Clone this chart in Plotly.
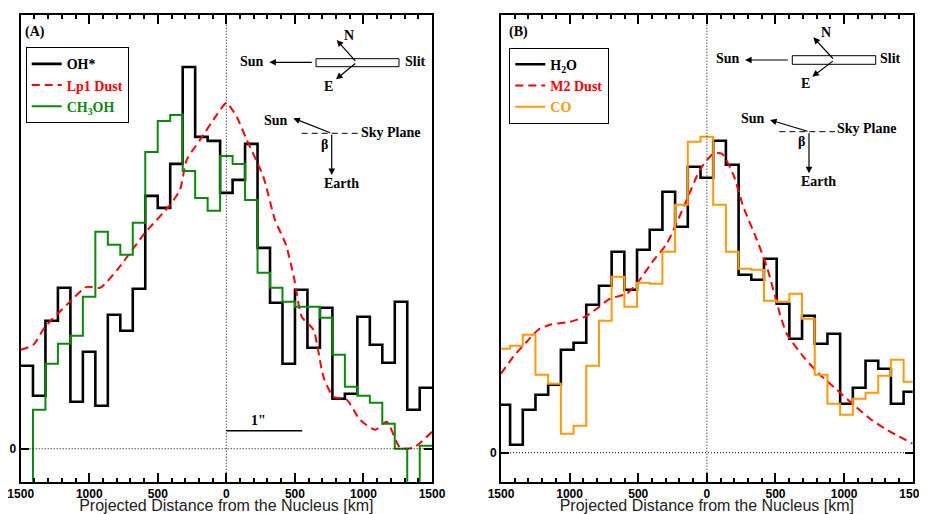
import numpy as np
import plotly.graph_objects as go

# The page body adds an 8 px margin; all positions below are given in window pixels
# and converted to the figure's paper coordinates.
OFF = 8
W, H = 927 - OFF, 514 - OFF

# ---------------- data (relative intensity, arbitrary units) ----------------
bin_index = list(range(-16, 17))          # spatial pixel rows, centred on nucleus
bin_width_A_km = 91.0
bin_width_B_km = 92.5

oh_A = [83, 53, 128, 161, 47, 97, 43, 134, 118, 160, 253, 241, 285, 382, 312, 308,
        256, 269, 305, 201, 146, 85, 159, 101, 141, 50, 55, 132, 104, 86, 147, 39, 61]
ch3oh_A = [-60, 39, 85, 105, 113, 152, 217, 204, 194, 226, 297, 328, 334, 278, 251, 238,
           293, 285, 249, 176, 161, 147, 142, 142, 131, 94, 62, 53, 46, 25, 0, -60, 3]
dust_A_km = [-1500, -1408, -1322, -1164, -1018, -921, -790, -605, -411, -338, -289, -192,
             -70, 0, 76, 149, 270, 355, 435, 495, 550, 635, 708, 780, 878, 975, 1085,
             1170, 1267, 1364, 1500]
dust_A = [99, 104, 122, 144, 162, 161, 180, 214, 244, 259, 289, 309, 334, 346, 332, 309,
          272, 229, 204, 170, 132, 119, 72, 52, 49, 29, 19, 27, 1, 1, 17]

h2o_B = [48, 8, 43, 58, 68, 103, 110, 148, 167, 201, 163, 203, 223, 261, 226, 286,
         275, 312, 288, 178, 173, 194, 149, 114, 137, 109, 119, 49, 65, 92, 84, 49, 61]
co_B = [104, 107, 118, 78, 69, 19, 27, 87, 132, 176, 146, 170, 169, 201, 248, 311,
        316, 248, 201, 184, 183, 152, 151, 159, 134, 78, 49, 38, 54, 60, 77, 93, 71]
dust_B_km = [-1500, -1410, -1312, -1228, -1143, -997, -888, -802, -705, -584, -511, -385,
             -292, -146, -50, 47, 109, 193, 266, 364, 437, 534, 582, 703, 825, 947, 1068,
             1189, 1311, 1500]
dust_B = [79, 96, 111, 123, 128, 131, 136, 144, 154, 159, 169, 193, 209, 253, 283, 299,
          299, 278, 246, 213, 186, 138, 119, 96, 78, 63, 48, 34, 23, 9]

tick_vals = [-1500, -1000, -500, 0, 500, 1000, 1500]
tick_text = [str(abs(v)) for v in tick_vals]
one_arcsec_km = 553

# ---------------- helpers ----------------
def steps(values, width):
    c = np.array(bin_index, dtype=float) * width
    x = list(c - width / 2) + [c[-1] + width / 2]
    y = list(values) + [values[-1]]
    return x, y

def P(px, py):
    """window pixel -> paper fraction"""
    return (px - OFF) / W, 1 - (py - OFF) / H

SERIF = "Liberation Serif"
SANS = "Liberation Sans"
RED = "#ff0000"
GREEN = "#0a8a0a"
ORANGE = "#ff9a00"

fig = go.Figure()

xa, ya = steps(oh_A, bin_width_A_km)
fig.add_trace(go.Scatter(x=xa, y=ya, mode="lines", line=dict(color="black", width=2.6, shape="hv"),
                         name="OH*", legend="legend"))
fig.add_trace(go.Scatter(x=dust_A_km, y=dust_A, mode="lines",
                         line=dict(color=RED, width=2, dash="8px,5px", shape="spline", smoothing=0.6),
                         name='<span style="color:#ff0000">Lp1 Dust</span>', legend="legend"))
xg, yg = steps(ch3oh_A, bin_width_A_km)
fig.add_trace(go.Scatter(x=xg, y=yg, mode="lines", line=dict(color=GREEN, width=2, shape="hv"),
                         name='<span style="color:#0a8a0a">CH<sub>3</sub>OH</span>', legend="legend"))

xb, yb = steps(h2o_B, bin_width_B_km)
fig.add_trace(go.Scatter(x=xb, y=yb, mode="lines", line=dict(color="black", width=2.6, shape="hv"),
                         name="H<sub>2</sub>O", xaxis="x2", yaxis="y2", legend="legend2"))
fig.add_trace(go.Scatter(x=dust_B_km, y=dust_B, mode="lines",
                         line=dict(color=RED, width=2, dash="8px,5px", shape="spline", smoothing=0.6),
                         name='<span style="color:#ff0000">M2 Dust</span>', xaxis="x2", yaxis="y2",
                         legend="legend2"))
xc, yc = steps(co_B, bin_width_B_km)
fig.add_trace(go.Scatter(x=xc, y=yc, mode="lines", line=dict(color=ORANGE, width=2, shape="hv"),
                         name='<span style="color:#ff9a00">CO</span>', xaxis="x2", yaxis="y2",
                         legend="legend2"))

def xaxis_cfg(domain, anchor):
    return dict(domain=domain, anchor=anchor, range=[-1500, 1500], tickvals=tick_vals,
                ticktext=tick_text, ticks="inside", ticklen=9, tickwidth=1.5, tickcolor="black",
                minor=dict(dtick=100, tick0=0, ticks="inside", ticklen=4, tickwidth=1.5,
                           tickcolor="black"),
                showline=True, linewidth=2, linecolor="black", mirror="ticks",
                showgrid=False, zeroline=False, automargin=False, ticklabeloverflow="allow",
                tickfont=dict(family=SANS, size=12, color="black", weight="bold"),
                title=dict(text="Projected Distance from the Nucleus [km]", standoff=10,
                           font=dict(family=SANS, size=16, color="#222")))

def yaxis_cfg(domain, anchor, rng):
    return dict(domain=domain, anchor=anchor, range=rng, tickvals=[0], ticktext=["0"],
                ticks="inside", ticklen=8, tickwidth=1.5, tickcolor="black",
                showline=True, linewidth=2, linecolor="black", mirror="ticks",
                showgrid=False, zeroline=False, automargin=False,
                tickfont=dict(family=SANS, size=12, color="black", weight="bold"))

ydom = [1 - (481.7 - OFF) / H, 1 - (15 - OFF) / H]
shapes = []
annotations = []
for xr, yr in (("x", "y"), ("x2", "y2")):
    shapes.append(dict(type="line", xref=xr, yref=yr + " domain", x0=0, x1=0, y0=0, y1=1,
                       line=dict(color="black", width=1, dash="1px,2px")))
    shapes.append(dict(type="line", xref=xr + " domain", yref=yr, x0=0, x1=1, y0=0, y1=0,
                       line=dict(color="black", width=1, dash="1px,2px")))

# 1" scale bar in panel A
shapes.append(dict(type="line", xref="x", yref="y", x0=0, x1=one_arcsec_km, y0=18, y1=18,
                   line=dict(color="black", width=1.5)))

def txt(px, py, s, size=14, color="black"):
    x, y = P(px, py)
    annotations.append(dict(x=x, y=y, xref="paper", yref="paper", text=s, showarrow=False,
                            xanchor="center", yanchor="middle",
                            font=dict(family=SERIF, size=size, color=color, weight="bold")))

def arrow(tx, ty, hx, hy):
    x, y = P(hx, hy)
    annotations.append(dict(x=x, y=y, xref="paper", yref="paper", ax=tx - hx, ay=ty - hy,
                            text="", showarrow=True, arrowhead=2, arrowsize=1.1,
                            arrowwidth=1.2, arrowcolor="black"))

def rect(x0, y0, x1, y1):
    a0, b0 = P(x0, y0)
    a1, b1 = P(x1, y1)
    shapes.append(dict(type="rect", xref="paper", yref="paper", x0=a0, x1=a1, y0=b1, y1=b0,
                       line=dict(color="black", width=1), fillcolor="white"))

def dline(x0, y0, x1, y1):
    a0, b0 = P(x0, y0)
    a1, b1 = P(x1, y1)
    shapes.append(dict(type="line", xref="paper", yref="paper", x0=a0, x1=a1, y0=b0, y1=b1,
                       line=dict(color="black", width=1, dash="6px,4px")))

# ----- Panel A decorations -----
txt(35, 32.3, "(A)")
txt(258.3, 420.7, "1\"")
txt(251.7, 61.7, "Sun")
arrow(313.3, 62.3, 269.3, 62.3)
rect(316, 58.7, 399, 66.7)
txt(415, 61.7, "Slit")
arrow(356.7, 62.3, 336.7, 40)
txt(349.3, 35, "N")
arrow(356.7, 62.3, 336, 79.3)
txt(328.3, 86, "E")
txt(276, 120, "Sun")
dline(301.7, 133.3, 358.3, 133.3)
arrow(331.7, 133.3, 293.3, 118.3)
txt(390.7, 132.3, "Sky Plane")
txt(324.3, 144, "β")
arrow(331.7, 133.3, 331.7, 175)
txt(341.7, 183.3, "Earth")

# ----- Panel B decorations -----
txt(518.3, 32.3, "(B)")
txt(727.7, 59, "Sun")
arrow(789.3, 60, 745, 60)
rect(792.3, 55.7, 875.7, 64.3)
txt(890.7, 59, "Slit")
arrow(834.3, 60, 813.3, 37.3)
txt(826, 32.3, "N")
arrow(834.3, 60, 812.3, 76.7)
txt(805, 83.3, "E")
txt(752.7, 118.3, "Sun")
dline(779.3, 131.7, 835, 131.7)
arrow(809, 131.7, 770, 120)
txt(867.3, 129, "Sky Plane")
txt(801, 141.7, "β")
arrow(809, 131.7, 809, 173.3)
txt(818.3, 181.7, "Earth")

legend_style = dict(bgcolor="white", bordercolor="black", borderwidth=1,
                    font=dict(family=SERIF, size=14, color="black", weight="bold"),
                    xanchor="left", yanchor="top", tracegroupgap=0, xref="paper", yref="paper")

lx, ly = P(25.7, 47.3)
lx2, ly2 = P(509.3, 47.7)

fig.update_layout(
    width=W, height=H, margin=dict(l=0, r=0, t=0, b=0),
    paper_bgcolor="white", plot_bgcolor="white",
    xaxis=xaxis_cfg([(20.7 - OFF) / W, (432 - OFF) / W], "y"),
    yaxis=yaxis_cfg(ydom, "x", [-33, 434]),
    xaxis2=xaxis_cfg([(501 - OFF) / W, (912.7 - OFF) / W], "y2"),
    yaxis2=yaxis_cfg(ydom, "x2", [-29, 437.7]),
    legend=dict(x=lx, y=ly, **legend_style),
    legend2=dict(x=lx2, y=ly2, **legend_style),
    shapes=shapes, annotations=annotations, showlegend=True,
)

fig.write_html("out.html")
